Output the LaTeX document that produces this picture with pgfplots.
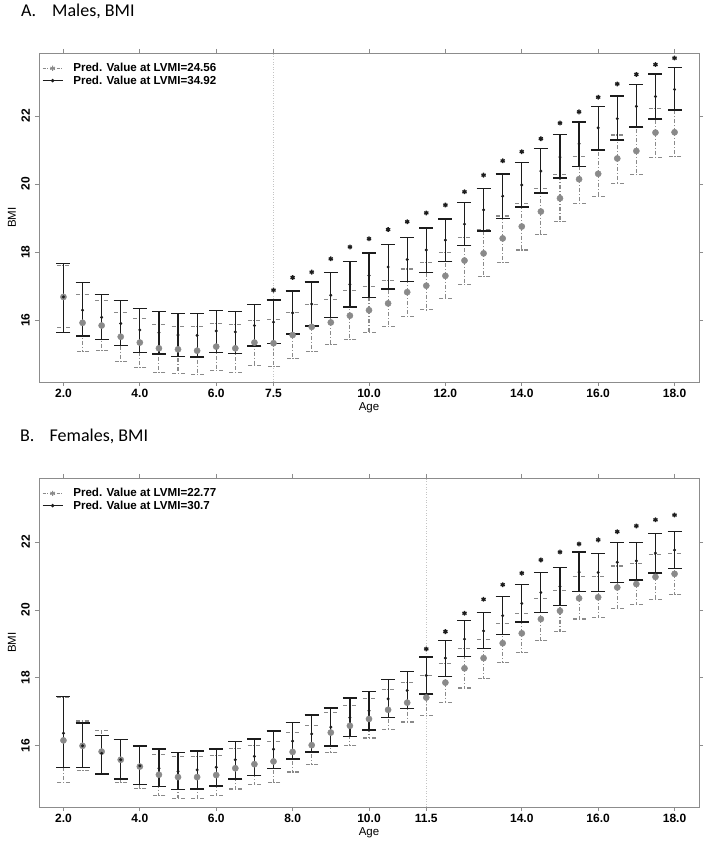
\documentclass[border=0pt]{standalone}
\usepackage{pgfplots}
\pgfplotsset{compat=1.18}
\usepackage{pgfplotstable}
\usepackage{fontspec}
\setmainfont{Liberation Sans}
\newfontfamily\calibri{Carlito}

\definecolor{gser}{HTML}{8A8A8A}
\definecolor{bser}{HTML}{1C1C1C}
\definecolor{framec}{HTML}{8C8C8C}
\definecolor{vline}{HTML}{C4C4C4}

% Panel A: males
\pgfplotstableread{
age gm glo ghi bm blo bhi
2.0 16.68 15.78 17.60 16.68 15.63 17.66
2.5 15.92 15.07 16.76 16.29 15.53 17.10
3.0 15.84 15.10 16.57 16.08 15.43 16.76
3.5 15.51 14.79 16.22 15.90 15.25 16.57
4.0 15.34 14.61 16.04 15.71 15.05 16.34
4.5 15.17 14.47 15.88 15.63 15.00 16.26
5.0 15.14 14.44 15.82 15.56 14.93 16.19
5.5 15.10 14.41 15.82 15.55 14.91 16.19
6.0 15.22 14.52 15.90 15.68 15.05 16.29
6.5 15.17 14.47 15.87 15.65 15.02 16.26
7.0 15.34 14.66 16.00 15.84 15.24 16.46
7.5 15.32 14.63 16.03 15.94 15.31 16.59
8.0 15.56 14.87 16.21 16.21 15.59 16.86
8.5 15.80 15.07 16.47 16.47 15.82 17.12
9.0 15.93 15.27 16.60 16.73 16.08 17.39
9.5 16.13 15.44 16.86 17.05 16.39 17.73
10.0 16.29 15.63 16.98 17.31 16.66 17.97
10.5 16.49 15.82 17.17 17.56 16.91 18.22
11.0 16.82 16.11 17.50 17.78 17.13 18.43
11.5 17.01 16.30 17.69 18.06 17.40 18.71
12.0 17.30 16.63 17.99 18.35 17.72 18.97
12.5 17.75 17.05 18.43 18.82 18.19 19.45
13.0 17.96 17.27 18.66 19.24 18.62 19.87
13.5 18.40 17.70 19.06 19.64 18.99 20.29
14.0 18.75 18.06 19.42 19.97 19.32 20.64
14.5 19.19 18.52 19.88 20.38 19.73 21.04
15.0 19.58 18.90 20.27 20.79 20.17 21.46
15.5 20.14 19.43 20.82 21.18 20.52 21.82
16.0 20.30 19.63 20.98 21.65 21.00 22.27
16.5 20.75 20.02 21.44 21.92 21.29 22.59
17.0 20.97 20.28 21.67 22.28 21.67 22.93
17.5 21.51 20.78 22.23 22.57 21.91 23.23
18.0 21.52 20.82 22.18 22.78 22.18 23.43
}\dataA

\pgfplotstableread{
age star
7.5 16.88
8.0 17.25
8.5 17.41
9.0 17.80
9.5 18.15
10.0 18.39
10.5 18.66
11.0 18.89
11.5 19.15
12.0 19.38
12.5 19.77
13.0 20.26
13.5 20.68
14.0 20.95
14.5 21.33
15.0 21.79
15.5 22.12
16.0 22.55
16.5 22.94
17.0 23.22
17.5 23.51
18.0 23.70
}\starsA

% Panel B: females
\pgfplotstableread{
age gm glo ghi bm blo bhi
2.0 16.16 14.92 17.42 16.37 15.36 17.45
2.5 16.00 15.27 16.73 16.00 15.36 16.67
3.0 15.83 15.17 16.46 15.78 15.17 16.30
3.5 15.59 14.92 16.18 15.59 15.02 16.18
4.0 15.39 14.75 15.98 15.41 14.87 16.00
4.5 15.15 14.54 15.75 15.34 14.80 15.91
5.0 15.08 14.46 15.69 15.25 14.71 15.81
5.5 15.08 14.46 15.69 15.29 14.73 15.85
6.0 15.14 14.54 15.72 15.37 14.82 15.91
6.5 15.34 14.73 15.92 15.59 15.02 16.13
7.0 15.46 14.86 16.01 15.69 15.13 16.20
7.5 15.54 14.93 16.14 15.90 15.34 16.44
8.0 15.82 15.23 16.40 16.14 15.61 16.68
8.5 16.02 15.44 16.61 16.35 15.82 16.91
9.0 16.39 15.81 16.98 16.55 15.99 17.11
9.5 16.59 16.00 17.18 16.83 16.27 17.41
10.0 16.79 16.23 17.38 17.03 16.47 17.60
10.5 17.06 16.47 17.67 17.38 16.84 17.96
11.0 17.27 16.70 17.86 17.63 17.09 18.19
11.5 17.42 16.89 18.07 18.07 17.52 18.61
12.0 17.86 17.27 18.43 18.58 18.04 19.09
12.5 18.28 17.70 18.87 19.14 18.63 19.68
13.0 18.58 17.99 19.14 19.38 18.87 19.93
13.5 19.02 18.45 19.61 19.83 19.28 20.39
14.0 19.31 18.75 19.90 20.19 19.64 20.75
14.5 19.73 19.10 20.34 20.51 19.92 21.10
15.0 19.97 19.36 20.57 20.69 20.13 21.25
15.5 20.34 19.73 20.97 21.11 20.54 21.70
16.0 20.37 19.77 20.97 21.10 20.54 21.65
16.5 20.66 20.03 21.29 21.40 20.80 21.98
17.0 20.76 20.17 21.37 21.44 20.88 21.98
17.5 20.97 20.31 21.64 21.67 21.08 22.25
18.0 21.06 20.44 21.67 21.76 21.21 22.30
}\dataB

\pgfplotstableread{
age star
11.5 18.85
12.0 19.36
12.5 19.90
13.0 20.31
13.5 20.74
14.0 21.08
14.5 21.47
15.0 21.70
15.5 21.94
16.0 22.06
16.5 22.30
17.0 22.47
17.5 22.65
18.0 22.79
}\starsB

\newcommand{\legfont}{\fontsize{11.6}{13.5}\selectfont\bfseries}
\newcommand{\tickfont}{\fontsize{12}{14}\selectfont\bfseries}
\newcommand{\labfont}{\fontsize{11.5}{13}\selectfont}
\newcommand{\titlefont}{\calibri\fontsize{18}{20}\selectfont}

\pgfplotsset{
  bmipanel/.style={
    scale only axis, width=660pt, height=329pt,
    xmin=1.36, xmax=18.64,
    axis line style={framec, line width=0.7pt},
    tick align=outside, major tick length=4pt,
    tick style={framec, line width=0.7pt},
    ytick={16,18,20,22}, yticklabels={16,18,20,22},
    yticklabel style={rotate=90, anchor=south, inner sep=0pt, font=\tickfont},
    xticklabel style={inner sep=0pt, font=\tickfont},
    yticklabel shift=5pt, xticklabel shift=3pt,
    xlabel={\labfont Age}, ylabel={\labfont BMI},
    xlabel style={at={(axis description cs:0.5,-0.079)}, anchor=center},
    ylabel style={at={(axis description cs:-0.041,0.5)}, anchor=center},
    legend style={at={(axis description cs:0,1)}, anchor=north west,
      xshift=3pt, yshift=-9pt, draw=none, fill=none, inner sep=0pt,
      row sep=0pt, nodes={inner sep=1.2pt},
      /tikz/every odd column/.append style={column sep=9pt}},
    legend cell align=left,
    legend image code/.code={%
      \draw[mark repeat=2, mark phase=2, #1] plot coordinates {(0pt,0pt) (10pt,0pt) (20pt,0pt)};},
  },
  grayser/.style={forget plot, only marks, mark=*, mark size=3.1pt,
    mark options={gser, fill=gser, solid},
    error bars/.cd, y dir=both, y explicit, error mark=-,
    error bar style={gser, line width=1.1pt, dash pattern=on 4pt off 2pt on 1pt off 2pt},
    error mark options={rotate=90, gser, line width=1.1pt, mark size=6.5pt, dash pattern=on 4pt off 1.5pt on 1.5pt off 1.5pt}},
  blackser/.style={forget plot, only marks, mark=*, mark size=1.3pt,
    mark options={bser, fill=bser},
    error bars/.cd, y dir=both, y explicit, error mark=-,
    error bar style={bser, line width=1.2pt, solid},
    error mark options={rotate=90, bser, line width=1.4pt, mark size=7pt, solid}},
  starser/.style={forget plot, only marks, mark=asterisk, mark size=2.4pt,
    mark options={bser, line width=1.3pt}},
}

\begin{document}
\begin{tikzpicture}
\path[use as bounding box] (0,0) rectangle (706pt,847pt);

\node[anchor=base west, inner sep=0pt, font=\titlefont] at (21pt,830pt) {A.};
\node[anchor=base west, inner sep=0pt, font=\titlefont] at (52pt,830pt) {Males, BMI};
\node[anchor=base west, inner sep=0pt, font=\titlefont] at (20pt,405pt) {B.};
\node[anchor=base west, inner sep=0pt, font=\titlefont] at (49.5pt,405pt) {Females, BMI};

% Panel A
\begin{axis}[bmipanel, at={(39pt,465pt)}, anchor=south west,
  ymin=14.18, ymax=23.85,
  xtick={2,4,6,7.5,10,12,14,16,18},
  xticklabels={2.0,4.0,6.0,7.5,10.0,12.0,14.0,16.0,18.0}]
\addlegendimage{gser, line width=0.9pt, dash pattern=on 3pt off 1.5pt on 1pt off 1.5pt, mark=asterisk, mark options={solid, gser, mark size=2.6pt}}
\addlegendentry{\legfont Pred. Value at LVMI=24.56}
\addlegendimage{bser, line width=0.9pt, mark=*, mark options={bser, mark size=1.3pt}}
\addlegendentry{\legfont Pred. Value at LVMI=34.92}
\addplot[forget plot, vline, line width=0.6pt, dotted] coordinates {(7.5,14.18) (7.5,23.85)};
\addplot[grayser] table[x=age, y=gm, y error plus expr=\thisrow{ghi}-\thisrow{gm}, y error minus expr=\thisrow{gm}-\thisrow{glo}] {\dataA};
\addplot[blackser] table[x=age, y=bm, y error plus expr=\thisrow{bhi}-\thisrow{bm}, y error minus expr=\thisrow{bm}-\thisrow{blo}] {\dataA};
\addplot[starser] table[x=age, y=star] {\starsA};
\end{axis}

% Panel B
\begin{axis}[bmipanel, at={(39pt,40pt)}, anchor=south west,
  ymin=14.2, ymax=23.88,
  xtick={2,4,6,8,10,11.5,14,16,18},
  xticklabels={2.0,4.0,6.0,8.0,10.0,11.5,14.0,16.0,18.0}]
\addlegendimage{gser, line width=0.9pt, dash pattern=on 3pt off 1.5pt on 1pt off 1.5pt, mark=asterisk, mark options={solid, gser, mark size=2.6pt}}
\addlegendentry{\legfont Pred. Value at LVMI=22.77}
\addlegendimage{bser, line width=0.9pt, mark=*, mark options={bser, mark size=1.3pt}}
\addlegendentry{\legfont Pred. Value at LVMI=30.7}
\addplot[forget plot, vline, line width=0.6pt, dotted] coordinates {(11.5,14.2) (11.5,23.88)};
\addplot[grayser] table[x=age, y=gm, y error plus expr=\thisrow{ghi}-\thisrow{gm}, y error minus expr=\thisrow{gm}-\thisrow{glo}] {\dataB};
\addplot[blackser] table[x=age, y=bm, y error plus expr=\thisrow{bhi}-\thisrow{bm}, y error minus expr=\thisrow{bm}-\thisrow{blo}] {\dataB};
\addplot[starser] table[x=age, y=star] {\starsB};
\end{axis}
\end{tikzpicture}
\end{document}
